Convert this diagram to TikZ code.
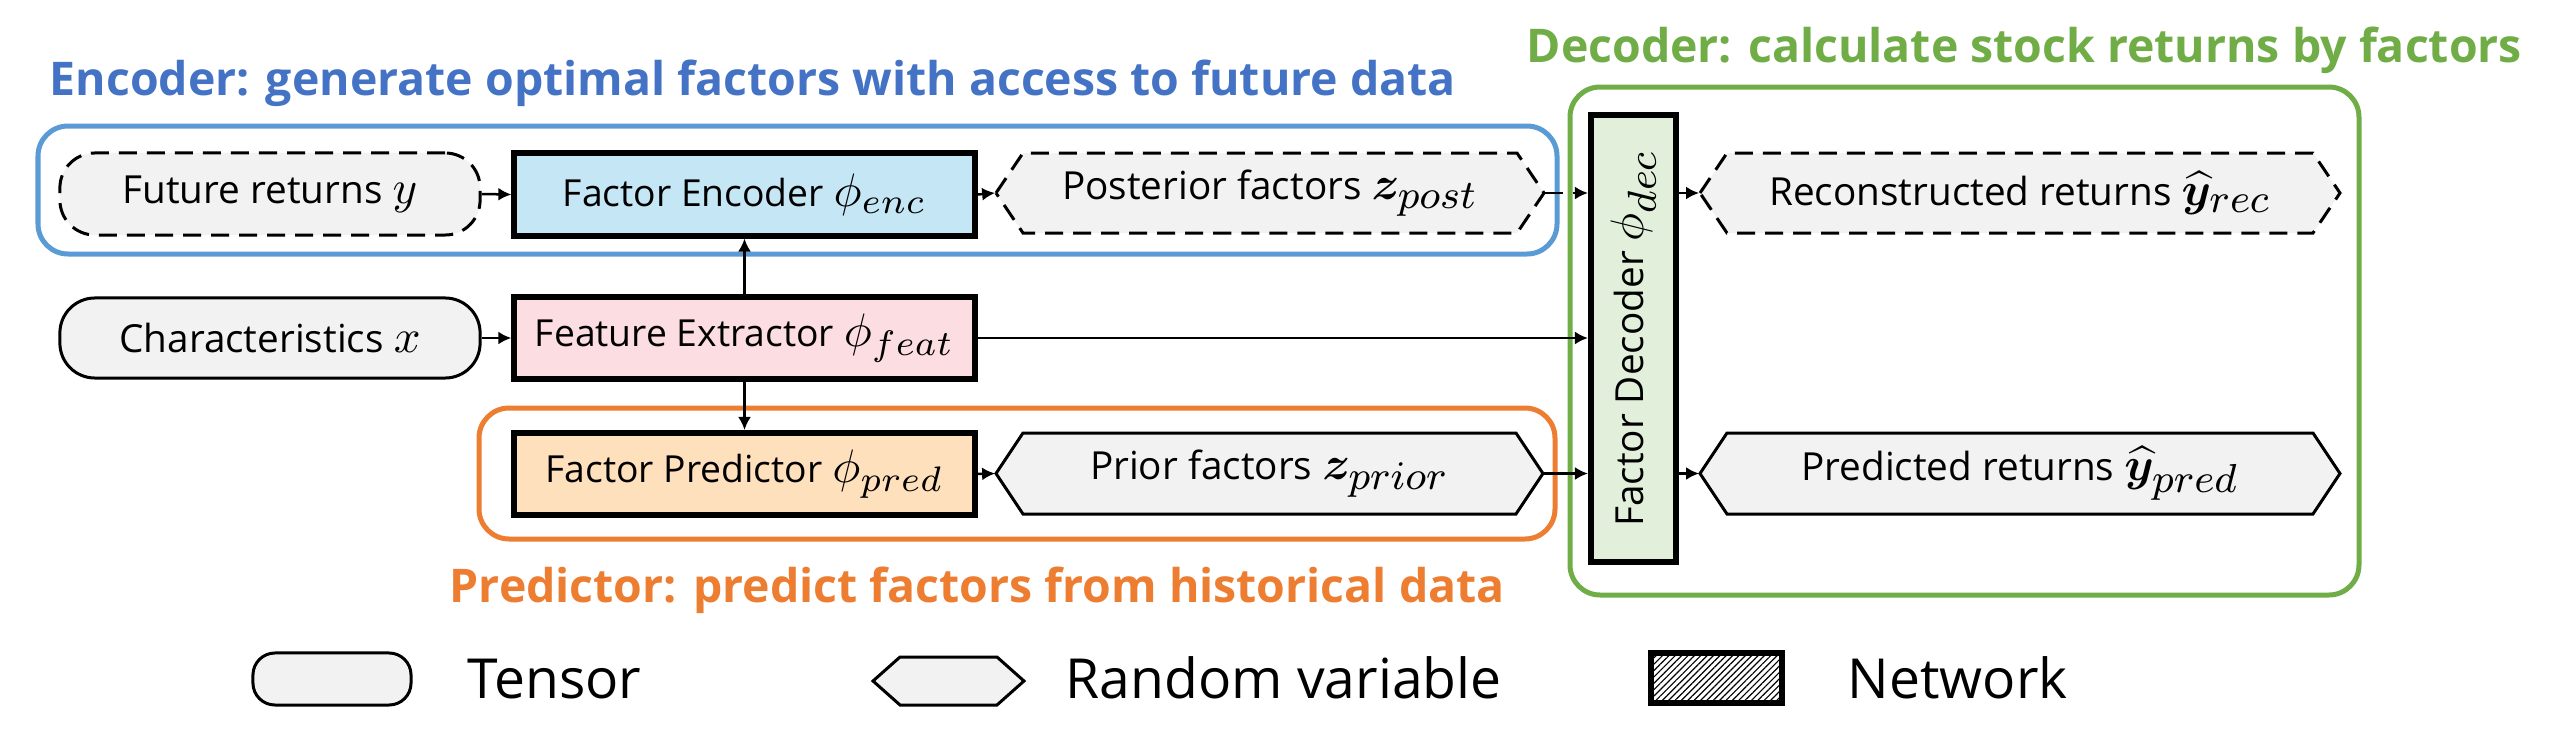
\documentclass[tikz,border=0pt]{standalone}
\usepackage{fontspec}
\usepackage{amsmath,bm}
\setmainfont{Open Sans}
\usetikzlibrary{arrows.meta,patterns.meta}
\definecolor{boxgray}{HTML}{F2F2F2}
\definecolor{encfill}{HTML}{C4E6F5}
\definecolor{featfill}{HTML}{FCDEE2}
\definecolor{predfill}{HTML}{FFE0BD}
\definecolor{decfill}{HTML}{E2EFDA}
\definecolor{encblue}{HTML}{5B9BD5}
\definecolor{titleblue}{HTML}{4472C4}
\definecolor{decgreen}{HTML}{70AD47}
\definecolor{predorange}{HTML}{ED7D31}
\newcommand{\mth}[1]{\scalebox{1.22}{$#1$}}
\newcommand{\sbs}[1]{\scalebox{1.18}{$\scriptstyle #1$}}
\newcommand{\hexnode}[7]{% #1 style, #2 name, #3 cx, #4 cy, #5 half width, #6 half height, #7 text
  \draw[#1] ({#3-#5},#4) -- ({#3-#5+27},{#4-#6}) -- ({#3+#5-27},{#4-#6}) -- ({#3+#5},#4)
     -- ({#3+#5-27},{#4+#6}) -- ({#3-#5+27},{#4+#6}) -- cycle;
  \node[bodytext, inner sep=0pt, minimum width={2*#5*0.1mm}, minimum height={2*#6*0.1mm}] (#2) at (#3,#4) {#7};}
\tikzset{
  bodytext/.style={font=\fontsize{11pt}{13pt}\selectfont},
  nettext/.style={font=\fontsize{10.6pt}{12pt}\selectfont},
  tensorbox/.style={draw, fill=boxgray, line width=0.3mm, rounded corners=3.5mm, inner sep=0pt, bodytext},
  netbox/.style={draw, line width=0.6mm, inner sep=0pt, nettext},
  hexsty/.style={draw, fill=boxgray, line width=0.3mm, line join=miter},
  dashsty/.style={dash pattern=on 1.8mm off 1mm},
  groupbox/.style={line width=0.5mm, rounded corners=3mm},
  titletext/.style={font=\fontsize{13.2pt}{16pt}\selectfont\bfseries, anchor=base west, inner sep=0pt},
  legendtext/.style={font=\fontsize{15.7pt}{19pt}\selectfont, anchor=base west, inner sep=0pt},
  conn/.style={line width=0.25mm, -{Latex[length=1.3mm,width=1.3mm]}},
}
\begin{document}
\begin{tikzpicture}[x=0.01cm,y=-0.01cm]
\useasboundingbox (0,0) rectangle (2559,739);
% group boxes
\draw[groupbox, encblue] (38,126) rectangle (1557,254);
\draw[groupbox, decgreen] (1570,87) rectangle (2359,595);
\draw[groupbox, predorange] (479,408) rectangle (1555,539);
% titles
\node[titletext, text=titleblue] (enctitle) at (49,95) {Encoder: generate optimal factors with access to future data};
\node[titletext, text=decgreen] (dectitle) at (1526,62) {Decoder: calculate stock returns by factors};
\node[titletext, text=predorange] (predtitle) at (449,602) {Predictor: predict factors from historical data};
% row 1
\node[tensorbox, dashsty, minimum width=42mm, minimum height=8.2mm] (fut) at (270,194) {Future returns \mth{y}};
\node[netbox, fill=encfill, minimum width=46mm, minimum height=8.2mm] (enc) at (744.5,194.5) {Factor Encoder \mth{\phi_{\sbs{enc}}}};
\hexnode{hexsty,dashsty}{post}{1270}{193}{274}{40}{Posterior factors \mth{\bm{z}_{\sbs{post}}}}
\hexnode{hexsty,dashsty}{rec}{2020}{193}{320}{40}{Reconstructed returns \mth{\widehat{\bm{y}}_{\sbs{rec}}}}
% row 2
\node[tensorbox, minimum width=42mm, minimum height=8mm] (chr) at (270,338) {Characteristics \mth{x}};
\node[netbox, fill=featfill, minimum width=46mm, minimum height=8.2mm] (feat) at (744.5,338) {Feature Extractor \mth{\phi_{\sbs{feat}}}};
% row 3
\node[netbox, fill=predfill, minimum width=46mm, minimum height=8.2mm] (pred) at (744.5,474) {Factor Predictor \mth{\phi_{\sbs{pred}}}};
\hexnode{hexsty}{prior}{1269.5}{473.5}{273.5}{40.5}{Prior factors \mth{\bm{z}_{\sbs{prior}}}}
\hexnode{hexsty}{predret}{2020}{473.5}{320}{40.5}{Predicted returns \mth{\widehat{\bm{y}}_{\sbs{pred}}}}
% decoder
\node[netbox, bodytext, fill=decfill, minimum width=8.5mm, minimum height=44.7mm] (dec) at (1633.5,338.5) {\rotatebox{90}{Factor Decoder \mth{\phi_{\sbs{dec}}}}};
% connectors
\draw[conn, dashsty] (fut.east) -- (enc.west);
\draw[conn] (enc.east) -- (post.west);
\draw[conn, dashsty] (post.east) -- (post.east -| dec.west);
\draw[conn, dashsty] (rec.west -| dec.east) -- (rec.west);
\draw[conn] (chr.east) -- (feat.west);
\draw[conn] (feat.north) -- (enc.south);
\draw[conn] (feat.south) -- (pred.north);
\draw[conn] (feat.east) -- (feat.east -| dec.west);
\draw[conn] (pred.east) -- (prior.west);
\draw[conn] (prior.east) -- (prior.east -| dec.west);
\draw[conn] (predret.west -| dec.east) -- (predret.west);
% legend
\node[tensorbox, minimum width=15.8mm, minimum height=5.2mm, rounded corners=2.2mm] (legtensor) at (332,679) {};
\node[legendtext] (legtensortext) at (467,698) {Tensor};
\hexnode{hexsty}{legrv}{948.5}{681}{75.5}{24}{}
\node[legendtext] (legrvtext) at (1065,698) {Random variable};
\node[netbox, fill=white, pattern={Lines[angle=45,distance=0.45mm,line width=0.12mm]}, minimum width=13mm, minimum height=5mm] (legnet) at (1716.5,678) {};
\node[legendtext] (legnettext) at (1847,698) {Network};
\end{tikzpicture}
\end{document}
